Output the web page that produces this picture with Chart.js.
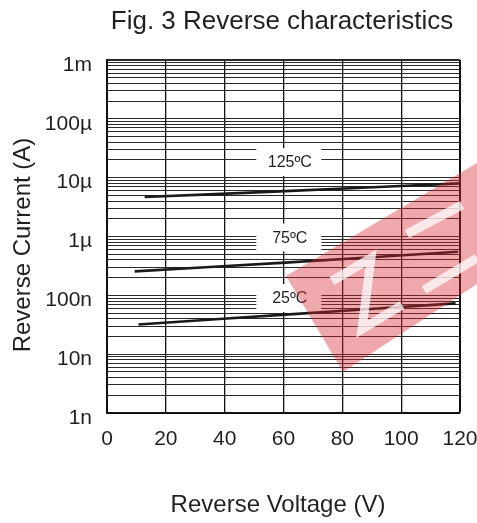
<!DOCTYPE html>
<html>
<head>
<meta charset="utf-8">
<script src="https://cdn.jsdelivr.net/npm/chart.js@4/dist/chart.umd.min.js"></script>
<style>
  html, body { margin: 0; padding: 0; background: #ffffff; }
  #wrap { width: 477px; height: 523px; }
</style>
</head>
<body>
<div id="wrap"><canvas id="chart" width="477" height="523"></canvas></div>
<script>
// Axis ticks
const voltageTicks = [0, 20, 40, 60, 80, 100, 120];
const currentDecades = [1e-9, 1e-8, 1e-7, 1e-6, 1e-5, 1e-4, 1e-3];
const decadeLabels = ['1n', '10n', '100n', '1\u00b5', '10\u00b5', '100\u00b5', '1m'];

// Reverse current vs reverse voltage, per junction temperature
const temps = ['25\u00baC', '75\u00baC', '125\u00baC'];
const volts25 = [10.7, 60.6, 118.5];
const amps25 = [3.2e-8, 4.7e-8, 7.3e-8];
const volts75 = [9.4, 60.6, 119.3];
const amps75 = [2.55e-7, 3.6e-7, 5.5e-7];
const volts125 = [12.8, 60.6, 120];
const amps125 = [4.7e-6, 5.9e-6, 8.0e-6];

// Where each temperature tag sits (voltage, current)
const tagVolts = [61.8, 61.8, 61.8];
const tagAmps = [9.0e-8, 9.6e-7, 1.84e-5];

const FONT = '"Liberation Sans", Arial, Helvetica, sans-serif';
const INK = '#231f20';

function pts(xs, ys) { return xs.map((x, i) => ({ x: x, y: ys[i] })); }

function curve(label, xs, ys) {
  return {
    label: label,
    data: pts(xs, ys),
    borderColor: '#1a1a1a',
    borderWidth: 2.6,
    pointRadius: 0,
    fill: false,
    tension: 0.3
  };
}

// Gridline values: 1..9 in every decade
function logGridValues() {
  const vals = [];
  for (let d = 0; d < currentDecades.length - 1; d++) {
    for (let k = 1; k <= 9; k++) {
      vals.push(parseFloat((currentDecades[d] * k).toPrecision(4)));
    }
  }
  vals.push(currentDecades[currentDecades.length - 1]);
  return vals;
}

function decadeIndex(v) {
  for (let i = 0; i < currentDecades.length; i++) {
    if (Math.abs(v / currentDecades[i] - 1) < 1e-6) return i;
  }
  return -1;
}

const textPlugin = {
  id: 'figureText',
  beforeDatasetsDraw(chart) {
    const ctx = chart.ctx;
    const xs = chart.scales.x, ys = chart.scales.y;
    ctx.save();
    for (let i = 0; i < temps.length; i++) {
      const px = xs.getPixelForValue(tagVolts[i]);
      const py = ys.getPixelForValue(tagAmps[i]);
      ctx.fillStyle = '#ffffff';
      ctx.fillRect(px - 32.5, py - 14, 65, 28);
      ctx.fillStyle = INK;
      ctx.font = '16px ' + FONT;
      ctx.textAlign = 'center';
      ctx.textBaseline = 'middle';
      ctx.fillText(temps[i], px + 1, py + 1);
    }
    ctx.restore();
  },
  afterDraw(chart) {
    const ctx = chart.ctx;
    ctx.save();
    ctx.fillStyle = INK;
    // Figure title
    ctx.font = '26px ' + FONT;
    ctx.textAlign = 'center';
    ctx.textBaseline = 'alphabetic';
    ctx.fillText('Fig. 3 Reverse characteristics', 282, 29);
    // X axis title
    ctx.font = '24px ' + FONT;
    ctx.fillText('Reverse Voltage (V)', 278, 512);
    // Y axis title
    ctx.translate(29.5, 245);
    ctx.rotate(-Math.PI / 2);
    ctx.font = '24px ' + FONT;
    ctx.fillText('Reverse Current (A)', 0, 0);
    ctx.restore();

    // Translucent red stamp in the lower right of the plot
    ctx.save();
    ctx.globalAlpha = 0.4;
    ctx.fillStyle = '#d7262f';
    ctx.beginPath();
    ctx.moveTo(286, 276);
    ctx.lineTo(477, 163);
    ctx.lineTo(477, 284);
    ctx.lineTo(343, 372);
    ctx.closePath();
    ctx.fill();
    ctx.globalAlpha = 0.75;
    ctx.strokeStyle = '#ffffff';
    ctx.lineWidth = 9;
    ctx.lineJoin = 'miter';
    ctx.lineCap = 'butt';
    ctx.beginPath();
    ctx.moveTo(332, 281);
    ctx.lineTo(371, 258);
    ctx.lineTo(362, 329);
    ctx.lineTo(402, 305);
    ctx.stroke();
    ctx.beginPath();
    ctx.moveTo(407, 234);
    ctx.lineTo(462, 205);
    ctx.stroke();
    ctx.beginPath();
    ctx.moveTo(424, 290);
    ctx.lineTo(477, 258);
    ctx.stroke();
    ctx.restore();
  }
};

new Chart(document.getElementById('chart'), {
  type: 'line',
  data: {
    datasets: [
      curve(temps[0], volts25, amps25),
      curve(temps[1], volts75, amps75),
      curve(temps[2], volts125, amps125)
    ]
  },
  options: {
    responsive: false,
    animation: false,
    devicePixelRatio: 1,
    layout: { padding: { top: 60, right: 0, left: 0, bottom: 0 } },
    plugins: {
      legend: { display: false },
      title: { display: false },
      tooltip: { enabled: false }
    },
    scales: {
      x: {
        type: 'linear',
        min: voltageTicks[0],
        max: voltageTicks[voltageTicks.length - 1],
        afterBuildTicks(scale) { scale.ticks = voltageTicks.map(v => ({ value: v })); },
        afterFit(scale) {
          scale.height = 110;
          scale.paddingLeft = 0;
          scale.paddingRight = 17;
        },
        ticks: {
          color: INK,
          font: { family: FONT, size: 21 },
          padding: 14,
          maxRotation: 0,
          autoSkip: false
        },
        grid: {
          color: '#111111',
          lineWidth: ctx => (ctx.tick && ctx.tick.value === 120 ? 2 : 1.3),
          drawTicks: false
        },
        border: { display: true, color: '#111111', width: 2 }
      },
      y: {
        type: 'logarithmic',
        min: currentDecades[0],
        max: currentDecades[currentDecades.length - 1],
        afterBuildTicks(scale) { scale.ticks = logGridValues().map(v => ({ value: v })); },
        afterFit(scale) {
          scale.width = 107;
          scale.paddingTop = 0;
          scale.paddingBottom = 0;
        },
        ticks: {
          color: INK,
          font: { family: FONT, size: 21 },
          padding: 15,
          labelOffset: 5,
          autoSkip: false,
          callback(value) {
            const i = decadeIndex(value);
            return i >= 0 ? decadeLabels[i] : '';
          }
        },
        grid: {
          color: '#2a2a2a',
          lineWidth: ctx => (ctx.tick && ctx.tick.value === 1e-3 ? 2 : 1),
          drawTicks: false
        },
        border: { display: true, color: '#111111', width: 2 }
      }
    }
  },
  plugins: [textPlugin]
});
</script>
</body>
</html>
